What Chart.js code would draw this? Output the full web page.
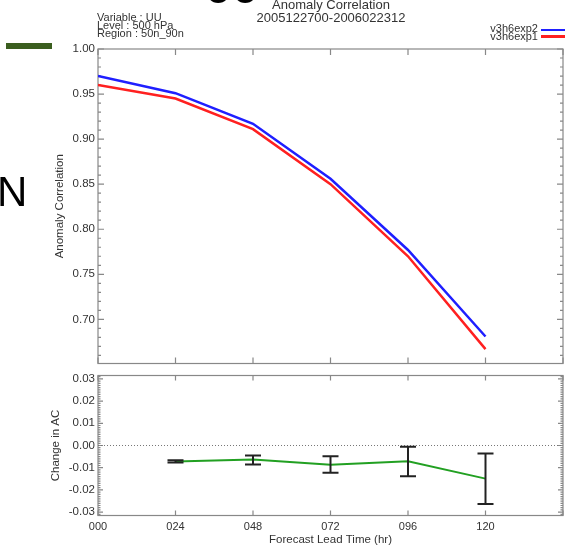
<!DOCTYPE html>
<html>
<head>
<meta charset="utf-8">
<script src="https://cdn.jsdelivr.net/npm/chart.js@4"></script>
<style>
  html, body { margin:0; padding:0; background:#fff; }
  body { width:565px; height:546px; position:relative; overflow:hidden; font-family:"Liberation Sans", Arial, sans-serif; }
  canvas { position:absolute; left:0; top:0; }
  .txt { position:absolute; color:#333; white-space:nowrap; }
  #title { left:231px; top:-1px; width:200px; text-align:center; font-size:13px; line-height:12.6px; }
  #info { left:97px; top:13px; font-size:11px; line-height:8px; }
  #legend { right:27px; top:25px; font-size:11px; line-height:7.5px; text-align:right; }
  .lg { position:absolute; left:541px; width:24px; height:2.5px; }
  #bigN { left:-3px; top:171px; font-size:42px; line-height:42px; color:#000; }
  #bar { position:absolute; left:6px; top:43px; width:46px; height:6px; background:#3b5e1f; }
  .oo { position:absolute; top:-31px; font-size:40px; line-height:40px; font-weight:bold; color:#000; }
</style>
</head>
<body>
<canvas id="top" width="565" height="546"></canvas>
<canvas id="bot" width="565" height="546"></canvas>
<div class="oo" style="left:206px">o</div>
<div class="oo" style="left:233px">o</div>
<div id="bar"></div>
<div id="bigN" class="txt">N</div>
<div id="title" class="txt">Anomaly Correlation<br>2005122700-2006022312</div>
<div id="info" class="txt">Variable : UU<br>Level : 500 hPa<br>Region : 50n_90n</div>
<div id="legend" class="txt">v3h6exp2<br>v3h6exp1</div>
<div class="lg" id="lg1" style="top:28.5px"></div>
<div class="lg" id="lg2" style="top:35px"></div>
<script>
// ---- data ----
const leadHours = [0, 24, 48, 72, 96, 120];
const xTickLabels = ['000', '024', '048', '072', '096', '120'];
const seriesNames = ['v3h6exp2', 'v3h6exp1'];
const acExp2 = [0.970, 0.951, 0.917, 0.856, 0.777, 0.681];
const acExp1 = [0.960, 0.945, 0.911, 0.850, 0.770, 0.667];
const diffHours = [24, 48, 72, 96, 120];
const diffAC = [-0.0072, -0.0063, -0.0087, -0.0071, -0.0149];
const diffLow = [-0.0077, -0.0086, -0.0123, -0.0138, -0.0263];
const diffHigh = [-0.0066, -0.0045, -0.0048, -0.0006, -0.0036];
const yTicksTop = [0.70, 0.75, 0.80, 0.85, 0.90, 0.95, 1.00];
const yTicksBot = [-0.03, -0.02, -0.01, 0.00, 0.01, 0.02, 0.03];

const BLUE = '#1f1fff', RED = '#ff2020', GREEN = '#22a022';
document.getElementById('lg1').style.background = BLUE;
document.getElementById('lg2').style.background = RED;

const FONT = "'Liberation Sans', Arial, sans-serif";
const AXIS = '#888';

// inward ticks + frame plugin
const framePlugin = {
  id: 'frame',
  beforeDatasetsDraw(chart, args, o) {
    const {ctx, chartArea: a} = chart;
    const xs = chart.scales.x, ys = chart.scales.y;
    ctx.save();
    ctx.strokeStyle = AXIS;
    ctx.lineWidth = 1.2;
    ctx.strokeRect(a.left, a.top, a.right - a.left, a.bottom - a.top);
    ctx.beginPath();
    for (let v = xs.min; v <= xs.max + 1e-9; v += o.xStep) {
      const px = xs.getPixelForValue(v);
      ctx.moveTo(px, a.top); ctx.lineTo(px, a.top + o.majorLen);
      ctx.moveTo(px, a.bottom); ctx.lineTo(px, a.bottom - o.majorLen);
    }
    const start = Math.ceil(ys.min / o.minorStep - 1e-6);
    const end = Math.floor(ys.max / o.minorStep + 1e-6);
    for (let k = start; k <= end; k++) {
      const v = k * o.minorStep;
      const py = ys.getPixelForValue(v);
      const isMajor = Math.abs(v / o.majorStep - Math.round(v / o.majorStep)) < 1e-6;
      const len = isMajor ? o.majorLen : o.minorLen;
      ctx.moveTo(a.left, py); ctx.lineTo(a.left + len, py);
      ctx.moveTo(a.right, py); ctx.lineTo(a.right - len, py);
    }
    ctx.stroke();
    ctx.restore();
  }
};

// ---- top chart ----
new Chart(document.getElementById('top'), {
  type: 'line',
  data: {
    datasets: [
      { label: seriesNames[0], data: leadHours.map((h, i) => ({x: h, y: acExp2[i]})), borderColor: BLUE, borderWidth: 2.5, pointRadius: 0 },
      { label: seriesNames[1], data: leadHours.map((h, i) => ({x: h, y: acExp1[i]})), borderColor: RED, borderWidth: 2.5, pointRadius: 0 }
    ]
  },
  options: {
    responsive: false, animation: false, devicePixelRatio: 1,
    layout: { autoPadding: false, padding: { left: 0, top: 49, right: 2, bottom: 182.5 } },
    plugins: { legend: { display: false }, tooltip: { enabled: false },
      frame: { xStep: 24, majorStep: 0.05, minorStep: 0.01, majorLen: 6, minorLen: 3 } },
    scales: {
      x: { type: 'linear', min: 0, max: 144, display: false },
      y: {
        min: 0.651, max: 1.0,
        afterBuildTicks: s => { s.ticks = yTicksTop.map(v => ({value: v})); },
        afterFit: s => { s.width = 98; },
        grid: { display: false, drawTicks: false }, border: { display: false },
        ticks: { padding: 3, color: '#333', font: { size: 11.5, family: FONT }, callback: v => Number(v).toFixed(2) },
        title: { display: true, text: 'Anomaly Correlation', color: '#333', font: { size: 11.5, family: FONT }, padding: { top: 53, bottom: 0 } }
      }
    }
  },
  plugins: [framePlugin]
});

// ---- bottom chart ----
const errData = [];
diffHours.forEach((h, i) => { errData.push({x: h, y: diffLow[i]}, {x: h, y: diffHigh[i]}, {x: h, y: null}); });

new Chart(document.getElementById('bot'), {
  type: 'line',
  data: {
    datasets: [
      { label: 'range', data: errData, borderColor: '#222', borderWidth: 2, spanGaps: false,
        pointStyle: 'line', pointRadius: 8, pointBorderWidth: 2, pointBorderColor: '#222', order: 0 },
      { label: 'diff', data: diffHours.map((h, i) => ({x: h, y: diffAC[i]})), borderColor: GREEN, borderWidth: 2, pointRadius: 0, order: 1 },
      { label: 'zero', data: [{x: 0, y: 0}, {x: 144, y: 0}], borderColor: '#777', borderWidth: 1, borderDash: [1, 2], pointRadius: 0, order: 2 }
    ]
  },
  options: {
    responsive: false, animation: false, devicePixelRatio: 1,
    layout: { autoPadding: false, padding: { left: 0, top: 375.5, right: 2, bottom: 0 } },
    plugins: { legend: { display: false }, tooltip: { enabled: false },
      frame: { xStep: 24, majorStep: 0.01, minorStep: 0.001, majorLen: 5, minorLen: 2.5 } },
    scales: {
      x: {
        type: 'linear', min: 0, max: 144,
        afterBuildTicks: s => { s.ticks = leadHours.map(v => ({value: v})); },
        afterFit: s => { s.height = 30.5; s.paddingLeft = 0; s.paddingRight = 0; },
        grid: { display: false, drawTicks: false }, border: { display: false },
        ticks: { padding: 5, maxRotation: 0, autoSkip: false, color: '#333', font: { size: 11, family: FONT },
          callback: (v, i) => xTickLabels[i] },
        title: { display: true, text: 'Forecast Lead Time (hr)', color: '#333', font: { size: 11.5, family: FONT }, padding: { top: 0, bottom: -1 } }
      },
      y: {
        min: -0.0315, max: 0.0315,
        afterBuildTicks: s => { s.ticks = yTicksBot.map(v => ({value: v})); },
        afterFit: s => { s.width = 98; },
        grid: { display: false, drawTicks: false }, border: { display: false },
        ticks: { padding: 3, color: '#333', font: { size: 11.5, family: FONT }, callback: v => Number(v).toFixed(2) },
        title: { display: true, text: 'Change in AC', color: '#333', font: { size: 11.5, family: FONT }, padding: { top: 49, bottom: 0 } }
      }
    }
  },
  plugins: [framePlugin]
});
</script>
</body>
</html>
